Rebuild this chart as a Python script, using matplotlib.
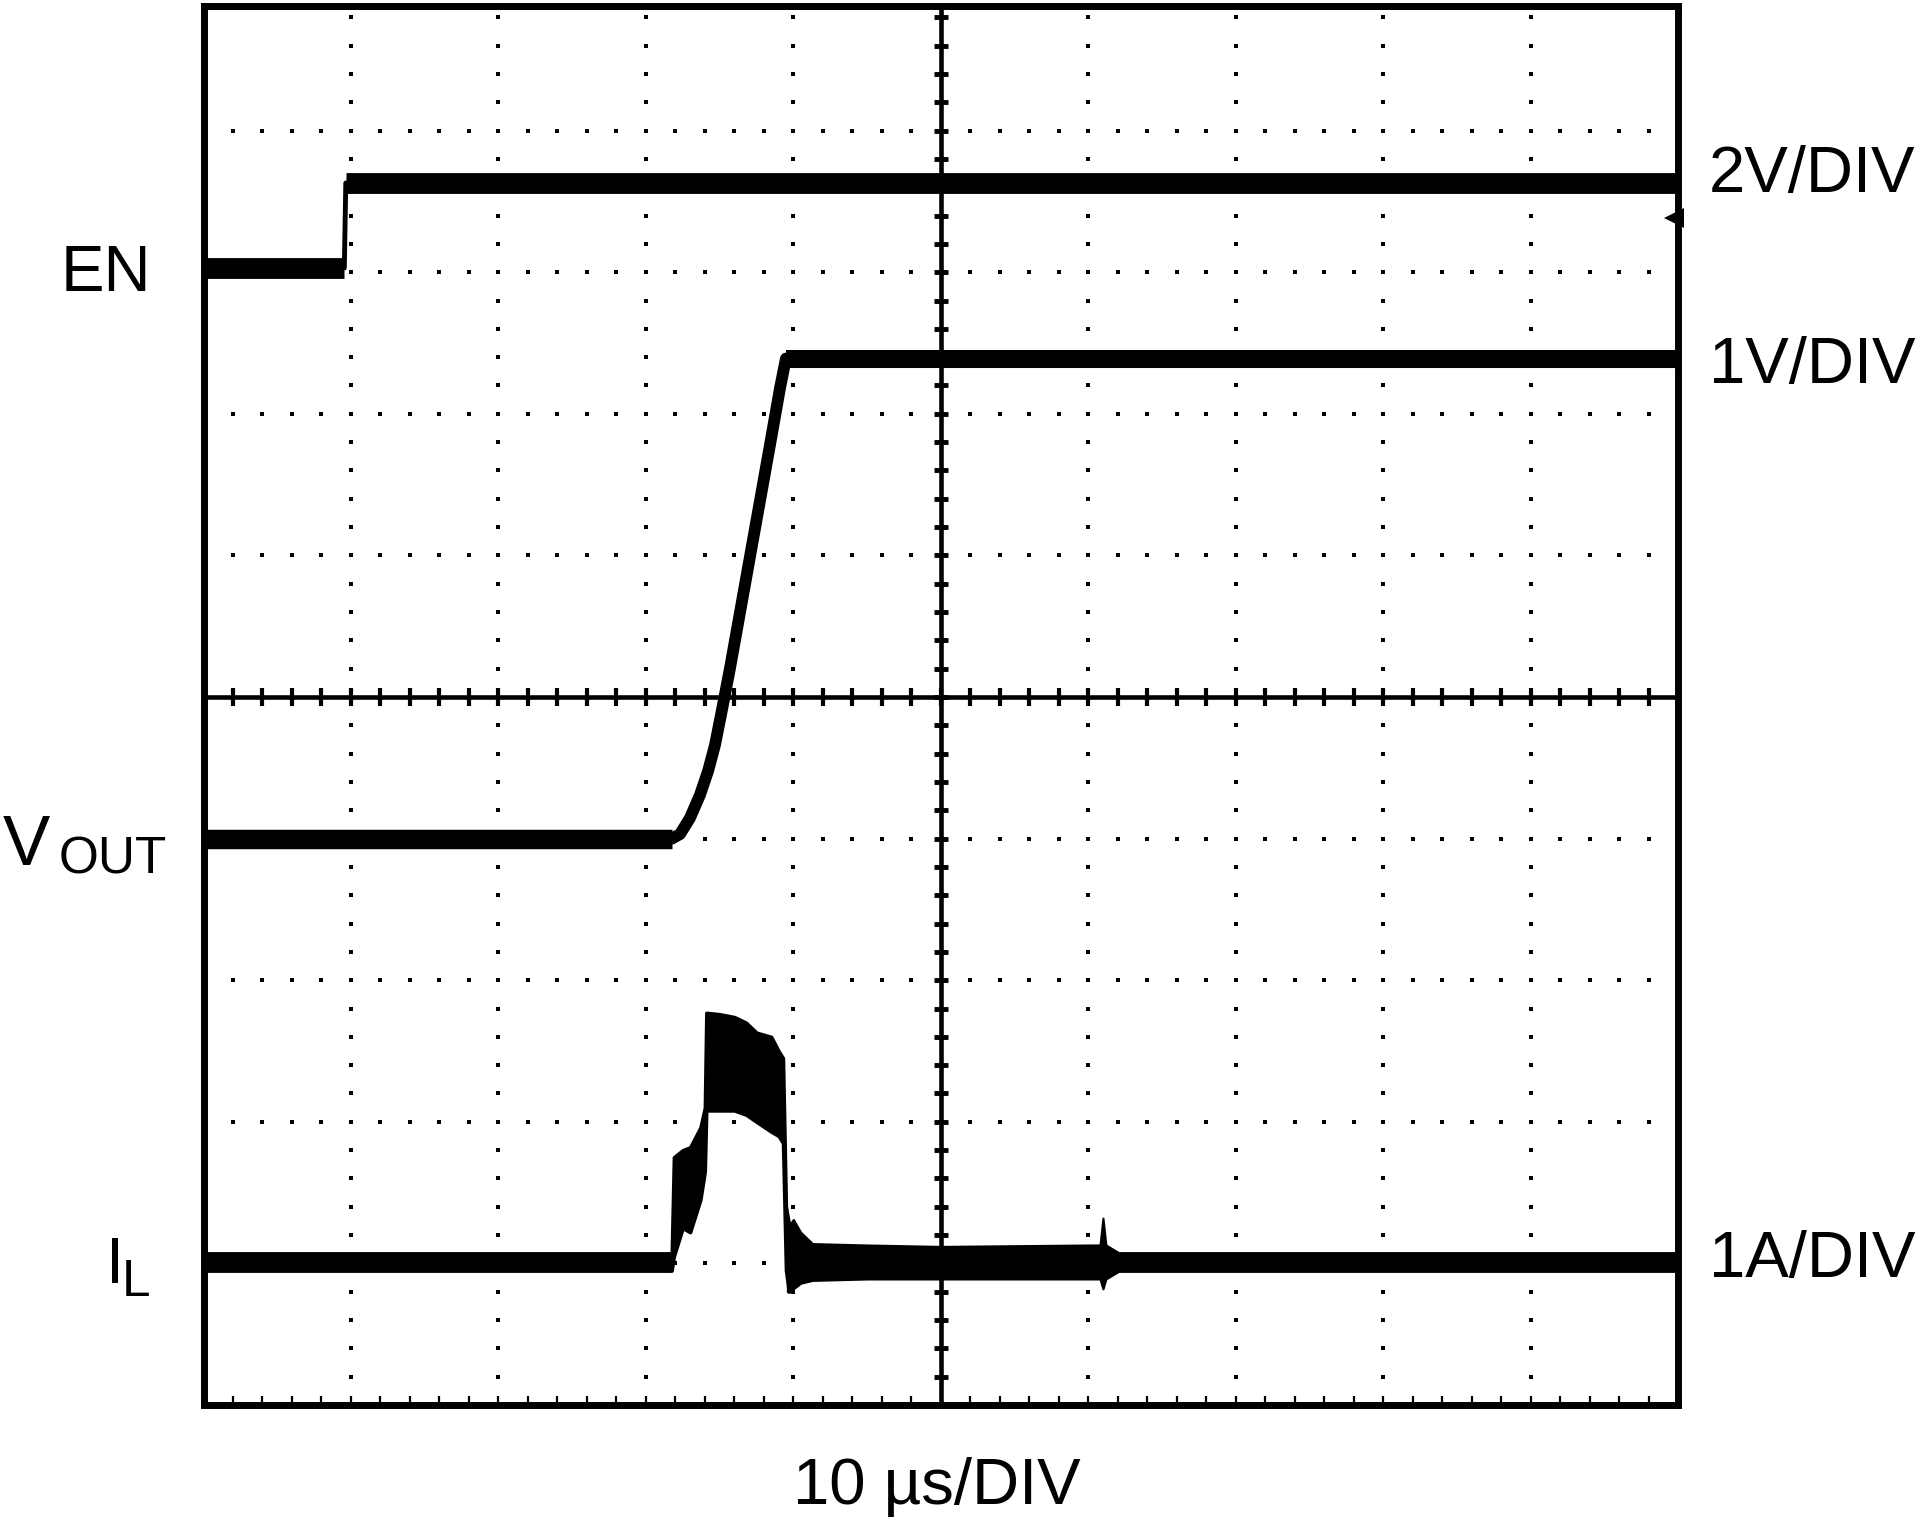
import numpy as np
import matplotlib
matplotlib.use("Agg")
import matplotlib.pyplot as plt

plt.rcParams['font.family'] = ['Liberation Sans', 'DejaVu Sans']

# ---- data (in scope divisions: x 0..10, y 0..9.88 from bottom) ----
en_t = [0.0, 0.955, 0.965, 10.0]
en_v = [8.03, 8.03, 8.63, 8.63]

vout_t = [0.0, 3.177, 3.232, 3.299, 3.367, 3.422, 3.469, 3.516, 3.571,
          3.639, 3.707, 3.775, 3.843, 3.910, 3.950, 10.0]
vout_v = [4.0, 4.0, 4.032, 4.145, 4.308, 4.477, 4.661, 4.908, 5.205,
          5.600, 5.996, 6.391, 6.787, 7.182, 7.39, 7.39]

il_base_t = [0.0, 3.18, 3.96, 10.0]
il_base_v = [1.01, 1.01, 1.01, 1.01]

il_hump_t = [3.175, 3.19, 3.25, 3.30, 3.37, 3.40, 3.41, 3.50, 3.60, 3.68,
             3.75, 3.85, 3.90, 3.93, 3.95, 3.97]
il_hump_hi = [1.05, 1.75, 1.80, 1.82, 1.96, 2.10, 2.77, 2.76, 2.74, 2.70,
              2.63, 2.60, 2.50, 2.45, 1.40, 1.28]
il_hump_lo = [0.95, 1.05, 1.25, 1.22, 1.45, 1.65, 2.08, 2.08, 2.08, 2.05,
              2.00, 1.93, 1.90, 1.85, 0.95, 0.80]

il_tail_t = [3.96, 4.00, 4.05, 4.13, 4.5, 5.0, 6.0, 6.08, 6.10, 6.12, 6.20]
il_tail_hi = [1.25, 1.31, 1.22, 1.14, 1.13, 1.12, 1.13, 1.13, 1.32, 1.13, 1.08]
il_tail_lo = [0.80, 0.82, 0.86, 0.88, 0.89, 0.89, 0.89, 0.89, 0.82, 0.89, 0.94]

ch_marker = (9.97, 8.38)

labels_left = ["EN", "V", "OUT", "I", "L"]
labels_right = ["2V/DIV", "1V/DIV", "1A/DIV"]
xlabel = "10 µs/DIV"

W, H = 1925, 1525
fig = plt.figure(figsize=(W / 100, H / 100), dpi=100)
L, R, T, B = 203.5, 1678, 6, 1405
ax = fig.add_axes([L / W, 1 - B / H, (R - L) / W, (B - T) / H])
XMAX, YMAX = 10.0, (B - T) / 141.6
ax.set_xlim(0, XMAX)
ax.set_ylim(0, YMAX)
ax.set_xticks([])
ax.set_yticks([])
for s in ax.spines.values():
    s.set_linewidth(5.0)
    s.set_color('black')
    s.set_zorder(5)

# ---- graticule ----
xs_minor = np.arange(0, XMAX + 1e-6, 0.2)
ys_minor = np.arange(0, YMAX, 0.2)
for xi in range(1, 10):
    if xi == 5:
        continue
    ax.plot(np.full(len(ys_minor), xi), ys_minor, ls='none', marker='s',
            ms=3.2, mew=0, color='black', zorder=1)
for yi in range(1, 10):
    if yi == 5:
        continue
    ax.plot(xs_minor, np.full(len(xs_minor), yi), ls='none', marker='s',
            ms=3.2, mew=0, color='black', zorder=1)
ax.axvline(5, color='black', lw=3.3, zorder=1)
ax.axhline(5, color='black', lw=3.3, zorder=1)
ax.plot(np.full(len(ys_minor), 5), ys_minor, ls='none', marker='_', ms=10,
        mew=3.5, color='black', zorder=1)
ax.plot(xs_minor, np.full(len(xs_minor), 5), ls='none', marker='|', ms=13,
        mew=3.0, color='black', zorder=1)
ax.vlines(xs_minor, 0, 0.065, color='black', lw=1.6, zorder=1)

# ---- traces ----
# EN
ax.plot(en_t, en_v, color='black', lw=3.5, solid_capstyle='butt', zorder=3)
ax.plot(en_t[:2], en_v[:2], color='black', lw=15, solid_capstyle='butt', zorder=3)
ax.plot(en_t[2:], en_v[2:], color='black', lw=15, solid_capstyle='butt', zorder=3)
ax.plot([ch_marker[0]], [ch_marker[1]], marker='<', ms=14, color='black',
        mew=0, zorder=4, clip_on=False)

# VOUT
ax.plot(vout_t, vout_v, color='black', lw=8.5, solid_capstyle='butt',
        solid_joinstyle='round', zorder=3)
ax.plot(vout_t[:2], vout_v[:2], color='black', lw=14, solid_capstyle='butt', zorder=3)
ax.plot(vout_t[-2:], vout_v[-2:], color='black', lw=13, solid_capstyle='butt', zorder=3)

# IL
ax.plot(il_base_t[:2], il_base_v[:2], color='black', lw=15, solid_capstyle='butt', zorder=3)
ax.plot(il_base_t[2:], il_base_v[2:], color='black', lw=15, solid_capstyle='butt', zorder=3)
ax.fill_between(il_hump_t, il_hump_lo, il_hump_hi, color='black', lw=2.5,
                edgecolor='black', zorder=3)
ax.fill_between(il_tail_t, il_tail_lo, il_tail_hi, color='black', lw=1.5,
                edgecolor='black', zorder=3)

# ---- labels ----
def fx(x):
    return x / W

def fy(y):
    return 1 - y / H

FS = 47
fig.text(fx(61), fy(291), labels_left[0], fontsize=FS, ha='left', va='baseline')
fig.text(fx(3), fy(865), labels_left[1], fontsize=51, ha='left', va='baseline')
fig.text(fx(59), fy(874), labels_left[2], fontsize=37, ha='left', va='baseline')
fig.text(fx(106), fy(1283), labels_left[3], fontsize=FS, ha='left', va='baseline')
fig.text(fx(122), fy(1296), labels_left[4], fontsize=37, ha='left', va='baseline')

fig.text(fx(1709), fy(192), labels_right[0], fontsize=FS, ha='left', va='baseline')
fig.text(fx(1709), fy(383), labels_right[1], fontsize=FS, ha='left', va='baseline')
fig.text(fx(1709), fy(1277), labels_right[2], fontsize=FS, ha='left', va='baseline')

fig.text(fx(937), fy(1504), xlabel, fontsize=FS, ha='center', va='baseline')

fig.savefig("out.png", dpi=100, facecolor='white')
